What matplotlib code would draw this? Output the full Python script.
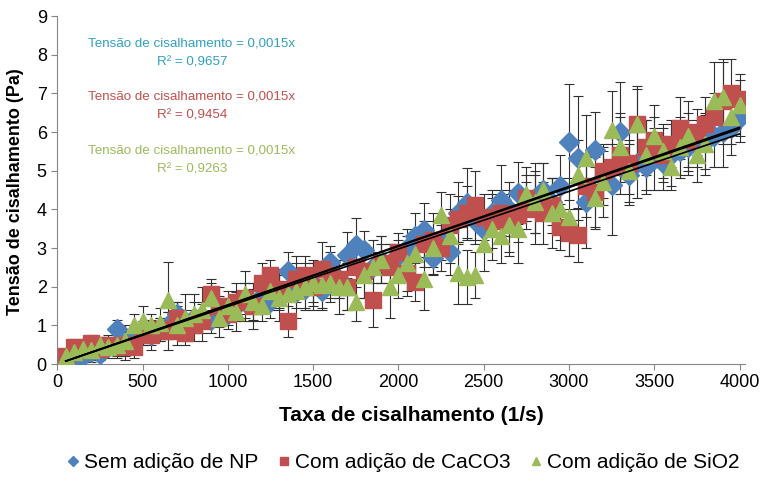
import numpy as np
import matplotlib.pyplot as plt

plt.rcParams['font.family'] = ['Liberation Sans', 'DejaVu Sans']

# shear rate (1/s)
taxa = [50, 100, 150, 200, 250, 300, 350, 400, 450, 500,
        550, 600, 650, 700, 750, 800, 850, 900, 950, 1000,
        1050, 1100, 1150, 1200, 1250, 1300, 1350, 1400, 1450, 1500,
        1550, 1600, 1650, 1700, 1750, 1800, 1850, 1900, 1950, 2000,
        2050, 2100, 2150, 2200, 2250, 2300, 2350, 2400, 2450, 2500,
        2550, 2600, 2650, 2700, 2750, 2800, 2850, 2900, 2950, 3000,
        3050, 3100, 3150, 3200, 3250, 3300, 3350, 3400, 3450, 3500,
        3550, 3600, 3650, 3700, 3750, 3800, 3850, 3900, 3950, 4000]

# shear stress (Pa)
sem_np = [0.15, 0.1, 0.2, 0.3, 0.25, 0.45, 0.9, 0.55, 0.7, 0.8,
          0.75, 0.9, 1.0, 1.3, 1.1, 1.2, 1.25, 1.15, 1.35, 1.3,
          1.5, 1.6, 1.55, 1.75, 1.6, 1.9, 2.4, 1.85, 1.95, 2.1,
          1.9, 2.64, 2.2, 2.82, 3.08, 2.95, 2.5, 2.7, 2.6, 2.8,
          3.0, 3.3, 3.46, 2.74, 3.2, 2.9, 3.9, 4.16, 3.7, 3.46,
          3.9, 4.24, 4.0, 4.42, 4.1, 4.3, 4.5, 4.2, 4.6, 5.74,
          5.33, 4.19, 5.53, 4.8, 4.63, 6.0, 4.9, 5.2, 5.1, 5.3,
          5.2, 5.4, 5.5, 5.6, 5.7, 5.75, 5.9, 6.0, 6.1, 6.35]
sem_np_err = [0.1, 0.1, 0.15, 0.2, 0.15, 0.2, 0.25, 0.3, 0.2, 0.3,
              0.25, 0.3, 0.35, 0.3, 0.3, 0.4, 0.3, 0.35, 0.4, 0.3,
              0.4, 0.5, 0.4, 0.45, 0.4, 0.5, 0.5, 0.4, 0.5, 0.6,
              0.5, 0.4, 0.5, 0.6, 0.7, 0.5, 0.4, 0.6, 0.5, 0.4,
              0.5, 0.6, 0.7, 0.4, 0.5, 0.6, 0.8, 0.9, 0.6, 0.5,
              0.6, 0.9, 0.7, 0.8, 0.6, 0.9, 0.7, 0.6, 0.8, 1.5,
              1.6, 1.2, 1.0, 0.7, 1.3, 1.3, 0.8, 0.9, 0.7, 0.8,
              0.7, 0.8, 0.6, 0.7, 0.6, 0.7, 0.8, 0.9, 0.7, 0.6]

caco3 = [0.2, 0.45, 0.35, 0.55, 0.4, 0.5, 0.45, 0.5, 0.45, 0.8,
         0.75, 0.9, 0.85, 1.2, 0.8, 1.0, 1.1, 1.8, 1.5, 1.3,
         1.6, 1.7, 1.5, 2.1, 2.3, 1.95, 1.1, 2.2, 2.3, 2.0,
         2.45, 2.3, 2.2, 2.0, 2.5, 2.4, 1.66, 2.6, 2.5, 2.9,
         2.35, 2.12, 3.1, 3.2, 3.0, 3.6, 3.75, 3.9, 4.1, 3.8,
         3.7, 3.9, 3.7, 3.85, 4.3, 4.0, 3.9, 4.1, 3.54, 3.4,
         3.34, 4.6, 4.45, 5.0, 5.1, 5.4, 5.2, 6.2, 5.6, 5.8,
         5.4, 5.7, 6.1, 5.8, 6.0, 6.2, 6.4, 6.8, 7.0, 6.85]
caco3_err = [0.1, 0.2, 0.3, 0.2, 0.3, 0.2, 0.3, 0.4, 0.3, 0.3,
             0.4, 0.3, 0.5, 0.4, 0.3, 0.4, 0.5, 0.4, 0.5, 0.4,
             0.5, 0.4, 0.6, 0.5, 0.4, 0.5, 0.4, 0.6, 0.5, 0.6,
             0.7, 0.6, 0.5, 0.6, 0.5, 0.7, 0.7, 0.5, 0.6, 0.5,
             0.6, 0.5, 0.6, 0.7, 0.6, 0.8, 0.6, 0.7, 0.9, 0.6,
             0.7, 0.6, 0.8, 0.7, 0.6, 0.9, 0.8, 0.7, 0.6, 0.6,
             0.7, 0.8, 0.9, 0.7, 0.6, 1.0, 0.8, 0.9, 0.7, 0.6,
             0.7, 0.6, 0.8, 0.7, 0.6, 0.7, 0.6, 1.1, 0.9, 0.5]

sio2 = [0.2, 0.3, 0.4, 0.35, 0.5, 0.45, 0.5, 0.6, 1.0, 1.1,
        1.0, 1.05, 1.65, 1.0, 1.2, 1.3, 1.4, 1.7, 1.2, 1.5,
        1.35, 1.8, 1.6, 1.5, 1.9, 1.7, 1.8, 1.9, 2.0, 2.1,
        2.05, 2.1, 2.0, 2.0, 1.6, 2.3, 2.5, 2.7, 2.0, 2.3,
        2.6, 2.85, 2.2, 3.0, 3.85, 3.3, 2.35, 2.25, 2.3, 3.1,
        3.5, 3.3, 3.6, 3.5, 4.4, 4.2, 4.5, 3.9, 4.0, 3.8,
        4.9, 5.33, 4.3, 4.7, 6.05, 5.6, 5.0, 6.2, 5.4, 5.9,
        5.5, 5.1, 5.6, 5.9, 5.4, 5.7, 6.8, 6.9, 6.4, 6.7]
sio2_err = [0.1, 0.2, 0.2, 0.3, 0.2, 0.3, 0.3, 0.4, 0.3, 0.4,
            0.3, 0.4, 1.0, 0.5, 0.6, 0.5, 0.6, 0.4, 0.5, 0.4,
            0.5, 0.6, 0.5, 0.4, 0.5, 0.6, 0.5, 0.7, 0.6, 0.5,
            0.6, 0.5, 0.7, 0.6, 0.5, 0.6, 0.7, 0.6, 0.8, 0.6,
            0.7, 0.6, 0.8, 0.7, 0.6, 0.7, 0.8, 0.7, 0.6, 0.7,
            0.8, 0.7, 0.8, 0.9, 0.7, 0.8, 0.7, 0.9, 0.8, 1.0,
            0.9, 1.1, 0.8, 0.9, 1.0, 0.9, 0.8, 1.0, 0.9, 0.8,
            0.7, 0.6, 0.8, 0.9, 0.7, 0.8, 1.0, 0.9, 0.7, 0.8]

series = [
    ('Sem adição de NP', sem_np, sem_np_err, 'D', 10.5, '#4F81BD'),
    ('Com adição de CaCO3', caco3, caco3_err, 's', 11.5, '#C0504D'),
    ('Com adição de SiO2', sio2, sio2_err, '^', 12, '#9BBB59'),
]
eq_texts = [('Tensão de cisalhamento = 0,0015x', 'R² = 0,9657', '#31A0C0', 8.3),
            ('Tensão de cisalhamento = 0,0015x', 'R² = 0,9454', '#C0504D', 6.93),
            ('Tensão de cisalhamento = 0,0015x', 'R² = 0,9263', '#9BBB59', 5.53)]

fig = plt.figure(figsize=(7.63, 4.86), dpi=100)
ax = fig.add_axes([0.075, 0.251, 0.901, 0.716])

x = np.array(taxa, dtype=float)
for name, y, err, mk, ms, col in series:
    ax.errorbar(x, y, yerr=err, fmt='none', ecolor='#303030', elinewidth=0.8,
                capsize=3.5, capthick=0.8, zorder=2)
for name, y, err, mk, ms, col in series:
    ax.plot(x, y, linestyle='none', marker=mk, markersize=ms, color=col,
            label=name, zorder=3)
for name, y, err, mk, ms, col in series:
    y = np.array(y)
    slope = np.sum(x * y) / np.sum(x * x)
    xs = np.array([x[0], x[-1]])
    ax.plot(xs, slope * xs, color='black', linewidth=1.2, zorder=4)

for eq, r2, col, ypos in eq_texts:
    ax.text(790, ypos, eq, color=col, fontsize=9.6, ha='center', va='center')
    ax.text(790, ypos - 0.5, r2, color=col, fontsize=9.6, ha='center', va='center')

ax.set_xlim(0, 4030)
ax.set_ylim(0, 9)
ax.set_xticks(np.arange(0, 4001, 500))
ax.set_yticks(np.arange(0, 10, 1))
ax.tick_params(labelsize=13, color='#868686', length=4)
for s in ['top', 'right']:
    ax.spines[s].set_visible(False)
for s in ['left', 'bottom']:
    ax.spines[s].set_color('#868686')
ax.set_xlabel('Taxa de cisalhamento (1/s)', fontsize=15, fontweight='bold')
ax.set_ylabel('Tensão de cisalhamento (Pa)', fontsize=13, fontweight='bold')
ax.xaxis.set_label_coords(0.515, -0.12)
ax.yaxis.set_label_coords(-0.048, 0.494)

ax.legend(loc='center', bbox_to_anchor=(0.5, -0.284), ncol=3, frameon=False,
          fontsize=15, handletextpad=0.05, columnspacing=0.7, markerscale=0.52,
          handlelength=1.0)

fig.savefig('out.png', dpi=100)
